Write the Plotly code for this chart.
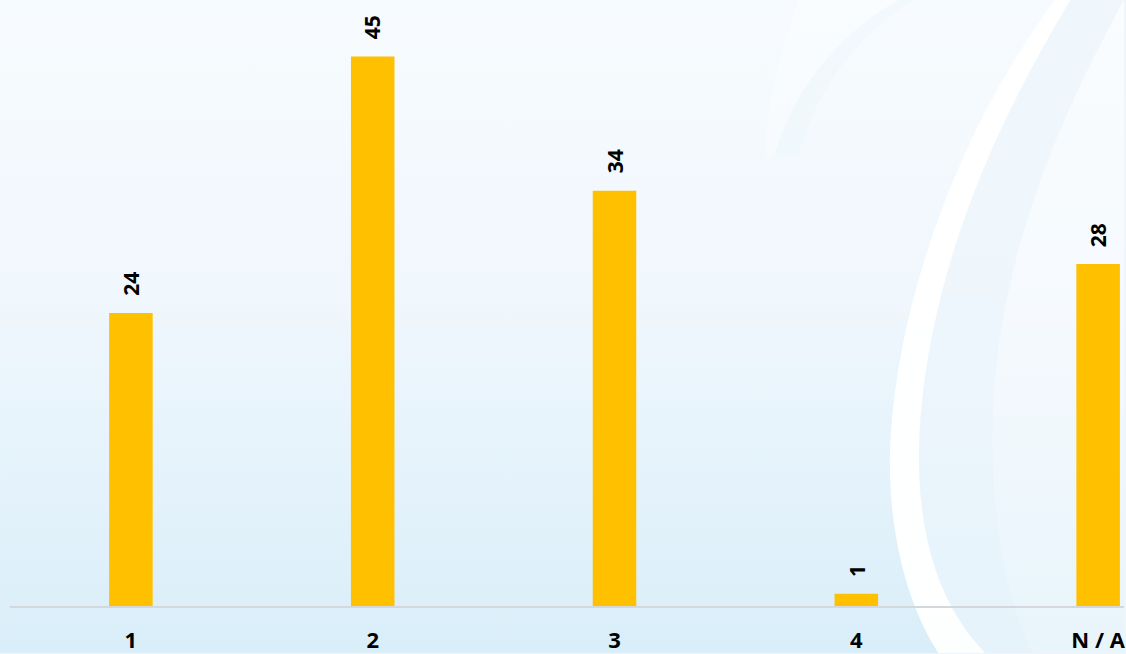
import base64

import plotly.graph_objects as go

categories = ["1", "2", "3", "4", "N/A"]
tick_labels = ["1", "2", "3", "4", "N / A"]
counts = [24, 45, 34, 1, 28]

BAR_COLOR = "#FFC000"
FONT = "'Open Sans', Lato, sans-serif"

# background: soft blue gradient with a white swoosh on the right
bg_svg = """<svg xmlns="http://www.w3.org/2000/svg" width="1126" height="654" viewBox="0 0 1126 654">
<defs>
<linearGradient id="g" x1="0" y1="0" x2="0" y2="1">
<stop offset="0" stop-color="#F7FBFE"/>
<stop offset="0.45" stop-color="#F0F7FD"/>
<stop offset="1" stop-color="#D9EEF9"/>
</linearGradient>
</defs>
<rect width="1126" height="654" fill="url(#g)"/>
<path d="M1070,0 C1000,120 935,260 922,420 C915,520 935,600 987,654 L1126,654 L1126,0 Z" fill="#FFFFFF" opacity="0.4"/>
<path d="M1072,0 L1126,0 C1060,120 1005,250 995,400 C990,500 1005,600 1035,654 L987,654 C935,600 915,520 922,420 C935,260 1000,120 1072,0 Z" fill="#E4F2FB" opacity="0.45"/>
<path d="M1057,0 L1072,0 C1000,120 935,260 922,420 C915,520 935,600 987,654 L940,654 C905,600 888,520 892,440 C900,300 960,130 1057,0 Z" fill="#FFFFFF" opacity="0.95"/>
<path d="M800,0 C782,50 768,100 767,155 L776,155 C792,100 830,40 900,0 Z" fill="#FFFFFF" opacity="0.35"/>
<path d="M900,0 C830,40 792,100 776,155 L800,155 C815,100 850,40 915,0 Z" fill="#E8F4FC" opacity="0.3"/>
</svg>"""
bg_uri = "data:image/svg+xml;base64," + base64.b64encode(bg_svg.encode()).decode()

W, H = 1126, 654
ML, MR, MT, MB = 10, 0, 32, 47
pw, ph = W - ML - MR, H - MT - MB

fig = go.Figure()
fig.add_trace(
    go.Bar(
        x=categories,
        y=counts,
        width=0.18,
        marker=dict(color=BAR_COLOR, line=dict(width=0)),
        hoverinfo="x+y",
        showlegend=False,
    )
)

# value labels rotated above each bar (x given as category index)
for i, val in enumerate(counts):
    fig.add_annotation(
        x=i,
        y=val,
        xref="x",
        yref="y",
        text=str(val),
        showarrow=False,
        textangle=-90,
        yanchor="bottom",
        yshift=15,
        font=dict(family=FONT, size=21, color="#000000", weight="bold"),
    )

fig.add_layout_image(
    dict(
        source=bg_uri,
        xref="paper",
        yref="paper",
        x=-ML / pw,
        y=1 + MT / ph,
        sizex=W / pw,
        sizey=H / ph,
        xanchor="left",
        yanchor="top",
        sizing="stretch",
        layer="below",
    )
)

fig.update_xaxes(
    type="category",
    range=[-0.5, 4.107],
    tickvals=categories,
    ticktext=tick_labels,
    tickfont=dict(family=FONT, size=22, color="#000000", weight="bold"),
    showline=True,
    linecolor="#D4D8DC",
    linewidth=2,
    showgrid=False,
    ticks="",
    ticklabelstandoff=14,
    fixedrange=True,
)
fig.update_yaxes(visible=False, range=[0, 47], showgrid=False, zeroline=False, fixedrange=True)

fig.update_layout(
    width=W,
    height=H,
    margin=dict(l=ML, r=MR, t=MT, b=MB, pad=0),
    paper_bgcolor="#EEF6FC",
    plot_bgcolor="rgba(0,0,0,0)",
)

fig.write_html(
    "out.html",
    config={"displayModeBar": False},
    post_script="document.body.style.margin='0';document.body.style.overflow='hidden';",
)
